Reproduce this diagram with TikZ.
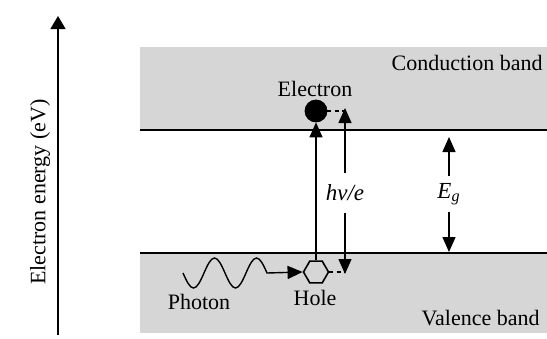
\documentclass[tikz,border=0pt]{standalone}
\usepackage{fontspec}
\setmainfont{Liberation Serif}
\usetikzlibrary{positioning,arrows.meta,shapes.geometric}
\definecolor{bandgray}{HTML}{D6D6D6}
\tikzset{
  band/.style={fill=bandgray,draw=none},
  edge/.style={line width=0.6pt},
  arr/.style={-{Triangle[length=7.5pt,width=6.5pt]},line width=0.7pt},
  axarr/.style={-{Triangle[length=6.5pt,width=7.5pt]},line width=0.7pt},
  dashlink/.style={dashed,dash pattern=on 2pt off 1.6pt,line width=0.6pt},
  electron/.style={circle,draw,fill=black,minimum size=11pt,inner sep=0},
  hole/.style={regular polygon,regular polygon sides=6,draw,fill=bandgray,line width=0.8pt,minimum size=12.5pt,inner sep=0},
  lab/.style={font=\fontsize{11}{13}\selectfont,inner sep=1pt},
  gap/.style={font=\fontsize{11.5}{13}\selectfont\itshape,inner xsep=1pt,inner ysep=6pt},
}
\begin{document}
\begin{tikzpicture}[x=0.5pt,y=-0.5pt]
  \useasboundingbox (0,0) rectangle (547,338);
  % the two bands, edges on top
  \fill[band] (140,47) rectangle (547,130);
  \fill[band] (140,253) rectangle (547,333);
  \draw[edge] (140,130) -- (547,130);
  \draw[edge] (140,253) -- (547,253);
  \node[lab,anchor=east] (cb) at (545,63) {Conduction band};
  \node[lab,anchor=east] (vb) at (542,318) {Valence band};
  % energy axis
  \coordinate (axbot) at (58,335);
  \coordinate (axtop) at (58,16);
  \draw[axarr] (axbot) -- (axtop);
  \node[lab,rotate=90] (axlab) at (40,192) {Electron energy (eV)};
  % electron and hole
  \node[electron] (el) at (316,111) {};
  \node[hole] (ho) at (316,272) {};
  \node[lab] (ellab) at (315,89) {Electron};
  \node[lab] (holab) at (315,298) {Hole};
  \draw[arr] (ho.north) -- (el.south);
  % incoming photon
  \node[lab] (phlab) at (199,302) {Photon};
  \coordinate (ph) at (183,273);
  \draw[arr] (ph) sin ++(10.5,15) cos ++(10.5,-15) sin ++(10.5,-15) cos ++(10.5,15)
    sin ++(10.5,15) cos ++(10.5,-15) sin ++(10.5,-15) cos ++(10.5,15) -- (ho.west);
  % h nu / e
  \coordinate (hvtop) at (345,108);
  \coordinate (hvbot) at (345,274);
  \node[gap] (hv) at (345,193) {hν/e};
  \draw[arr] (hv) -- (hvtop);
  \draw[arr] (hv) -- (hvbot);
  \draw[dashlink] (el.east) -- (el.east -| hvtop);
  \draw[dashlink] (ho.east) -- (ho.east -| hvbot);
  % band gap
  \coordinate (egtop) at (449,137);
  \coordinate (egbot) at (449,252);
  \node[gap,inner ysep=3.5pt] (eg) at (449,194) {E\textsubscript{g}};
  \draw[arr] (eg) -- (egtop);
  \draw[arr] (eg) -- (egbot);
\end{tikzpicture}
\end{document}
